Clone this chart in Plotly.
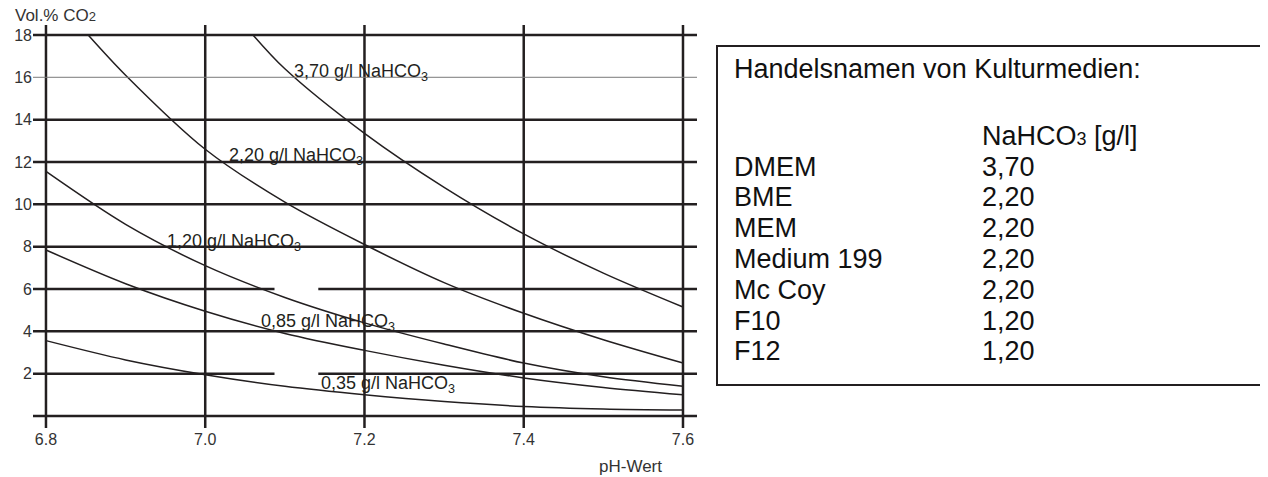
import plotly.graph_objects as go

# pH-Wert / Vol.% CO2 curves
ph = [6.8, 6.9, 7.0, 7.1, 7.2, 7.3, 7.4, 7.5, 7.6]
co2_035 = [3.56, 2.65, 1.95, 1.40, 1.00, 0.68, 0.45, 0.33, 0.28]
co2_085 = [7.84, 6.25, 4.95, 3.90, 3.10, 2.40, 1.80, 1.35, 1.00]
co2_120 = [11.55, 9.05, 7.10, 5.60, 4.40, 3.40, 2.50, 1.85, 1.40]
ph_220 = [6.853, 6.9, 7.0, 7.1, 7.2, 7.3, 7.4, 7.5, 7.6]
co2_220 = [18.0, 16.1, 12.6, 10.1, 8.1, 6.3, 4.85, 3.6, 2.5]
ph_370 = [7.06, 7.1, 7.2, 7.3, 7.4, 7.5, 7.6]
co2_370 = [18.0, 16.4, 13.35, 10.8, 8.6, 6.75, 5.15]

curve_labels = ["0,35", "0,85", "1,20", "2,20", "3,70"]
label_ph = [7.143, 7.067, 6.949, 7.027, 7.109]
label_co2 = [1.56, 4.53, 8.31, 12.33, 16.34]

x_grid = [6.8, 7.0, 7.2, 7.4, 7.6]
y_grid = [0, 2, 4, 6, 8, 10, 12, 14, 16, 18]
y_ticks = [2, 4, 6, 8, 10, 12, 14, 16, 18]
gap_rows = [2, 6]
gap_ph = (7.087, 7.142)

media = ["DMEM", "BME", "MEM", "Medium 199", "Mc Coy", "F10", "F12"]
nahco3 = ["3,70", "2,20", "2,20", "2,20", "2,20", "1,20", "1,20"]

INK = "#231f20"
FONT = "Liberation Sans, Arial, sans-serif"

# the page body adds an 8px margin, so the figure is 8px smaller and all
# screen positions below are shifted by that amount
OFF = 8
W, H = 1268 - OFF, 477 - OFF
L, T = 33 - OFF, 25 - OFF
R, B = W - (697 - OFF), H - (428 - OFF)
PW, PH = W - L - R, H - T - B
X_RANGE = [6.7837, 7.6176]
Y_RANGE = [-0.567, 18.47]


def px(x):
    return (x - OFF - L) / PW


def py(y):
    return (H - B - (y - OFF)) / PH


fig = go.Figure()
for xs, ys in [(ph, co2_035), (ph, co2_085), (ph, co2_120), (ph_220, co2_220), (ph_370, co2_370)]:
    fig.add_trace(go.Scatter(x=xs, y=ys, mode="lines", line=dict(color=INK, width=1.5, shape="spline", smoothing=0.9),
                             hoverinfo="skip", showlegend=False))

shapes = []
for gx in x_grid:
    shapes.append(dict(type="line", xref="x", yref="paper", x0=gx, x1=gx, y0=0, y1=1, line=dict(color=INK, width=2.5)))
for gy in y_grid:
    if gy == 16:
        shapes.append(dict(type="line", xref="x", yref="y", x0=X_RANGE[0], x1=X_RANGE[1], y0=gy, y1=gy,
                           line=dict(color="#7a7a7a", width=1)))
    elif gy in gap_rows:
        shapes.append(dict(type="line", xref="x", yref="y", x0=X_RANGE[0], x1=gap_ph[0], y0=gy, y1=gy,
                           line=dict(color=INK, width=2.5)))
        shapes.append(dict(type="line", xref="x", yref="y", x0=gap_ph[1], x1=X_RANGE[1], y0=gy, y1=gy,
                           line=dict(color=INK, width=2.5)))
    else:
        shapes.append(dict(type="line", xref="x", yref="y", x0=X_RANGE[0], x1=X_RANGE[1], y0=gy, y1=gy,
                           line=dict(color=INK, width=2.5)))

# table box
shapes.append(dict(type="rect", xref="paper", yref="paper", x0=px(717), x1=px(1266), y0=py(46), y1=py(385),
                   line=dict(color=INK, width=2), fillcolor="rgba(0,0,0,0)"))

annotations = []
for lab, lx, ly in zip(curve_labels, label_ph, label_co2):
    annotations.append(dict(x=lx, y=ly, xref="x", yref="y", text=f"{lab} g/l NaHCO<sub>3</sub>", showarrow=False,
                            xanchor="left", yanchor="middle", yshift=-2, font=dict(size=18, color=INK, family=FONT)))

annotations.append(dict(x=px(13), y=py(16), xref="paper", yref="paper", xanchor="left", yanchor="middle", showarrow=False,
                        text="Vol.% CO<span style='font-size:13px'>2</span>", font=dict(size=17, color="#333333", family=FONT)))
annotations.append(dict(x=px(597), y=py(466), xref="paper", yref="paper", xanchor="left", yanchor="middle", showarrow=False,
                        text="pH-Wert", font=dict(size=17, color="#333333", family=FONT)))

tfont = dict(size=27, color="#111111", family=FONT)
annotations.append(dict(x=px(732), y=py(69), xref="paper", yref="paper", xanchor="left", yanchor="middle", showarrow=False,
                        text="Handelsnamen von Kulturmedien:", font=tfont))
annotations.append(dict(x=px(980), y=py(136), xref="paper", yref="paper", xanchor="left", yanchor="middle", showarrow=False,
                        text="NaHCO<span style='font-size:18px'>3</span> [g/l]", font=tfont))
for i, (name, val) in enumerate(zip(media, nahco3)):
    yy = py(166.5 + i * 30.8)
    annotations.append(dict(x=px(732), y=yy, xref="paper", yref="paper", xanchor="left", yanchor="middle", showarrow=False,
                            text=name, font=tfont))
    annotations.append(dict(x=px(980), y=yy, xref="paper", yref="paper", xanchor="left", yanchor="middle", showarrow=False,
                            text=val, font=tfont))

fig.update_layout(
    width=W,
    height=H,
    margin=dict(l=L, r=R, t=T, b=B, autoexpand=False),
    paper_bgcolor="white",
    plot_bgcolor="white",
    font=dict(family=FONT, color="#333333"),
    shapes=shapes,
    annotations=annotations,
    xaxis=dict(range=X_RANGE, tickvals=x_grid, ticktext=[f"{v:.1f}" for v in x_grid], showgrid=False, automargin=False,
               zeroline=False, showline=False, ticks="", tickfont=dict(size=16, color="#333333"), fixedrange=True),
    yaxis=dict(range=Y_RANGE, tickvals=y_ticks, ticktext=[("\u2007" + str(v)) if v < 10 else str(v) for v in y_ticks],
               showgrid=False, zeroline=False, showline=False, ticks="", automargin=False,
               tickfont=dict(size=16, color="#333333"), fixedrange=True),
)

fig.write_html("out.html")
